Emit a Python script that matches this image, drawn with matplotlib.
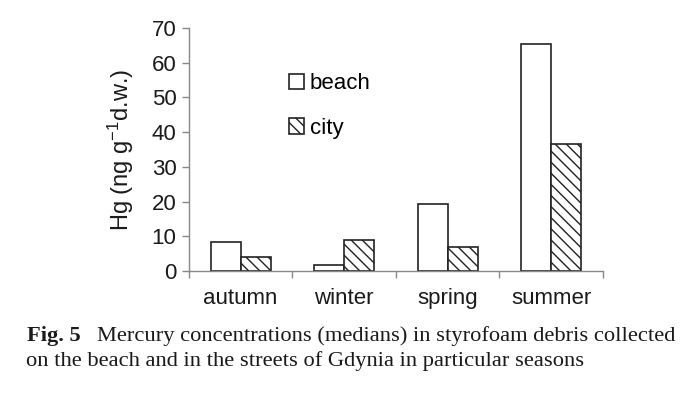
import matplotlib
matplotlib.use('Agg')
import matplotlib.pyplot as plt
import numpy as np

# data
seasons = ['autumn', 'winter', 'spring', 'summer']
beach = [8.4, 1.8, 19.2, 65.3]
city = [4.1, 8.9, 6.8, 36.6]
y_ticks = [0, 10, 20, 30, 40, 50, 60, 70]

plt.rcParams['font.family'] = ['Liberation Sans', 'DejaVu Sans']
plt.rcParams['mathtext.fontset'] = 'custom'
plt.rcParams['mathtext.rm'] = 'Liberation Sans'
plt.rcParams['mathtext.it'] = 'Liberation Sans:italic'
plt.rcParams['hatch.linewidth'] = 1.0

fig = plt.figure(figsize=(6.92, 3.96), dpi=100)
ax = fig.add_axes([0.273, 0.316, 0.598, 0.613])

x = np.arange(len(seasons))
w = 0.29
ax.bar(x - w / 2, beach, w, color='white', edgecolor='#222222', linewidth=1.2, label='beach')
ax.bar(x + w / 2, city, w, color='white', edgecolor='#222222', linewidth=1.2,
       hatch='\\\\\\', label='city')

ax.set_xlim(-0.5, len(seasons) - 0.5)
ax.set_ylim(0, 70)
ax.set_yticks(y_ticks)
ax.set_xticks(x)
ax.set_xticklabels(seasons)
ax.set_xticks(np.arange(len(seasons) + 1) - 0.5, minor=True)
ax.tick_params(axis='x', which='major', length=0, pad=12, labelsize=16, colors='#1a1a1a')
ax.tick_params(axis='x', which='minor', length=5, width=1, color='#888888')
ax.tick_params(axis='y', length=5, width=1, color='#888888', labelsize=16,
               labelcolor='#1a1a1a', pad=4)

for s in ['top', 'right']:
    ax.spines[s].set_visible(False)
for s in ['left', 'bottom']:
    ax.spines[s].set_color('#888888')
    ax.spines[s].set_linewidth(1.0)

ax.set_ylabel(r'Hg (ng g$^{\mathrm{-1}}$d.w.)', fontsize=17, color='#1a1a1a', labelpad=11)

ax.legend(loc='upper left', bbox_to_anchor=(0.22, 0.85), frameon=False, fontsize=16,
          handlelength=0.7, handleheight=0.7, handletextpad=0.25, labelspacing=1.05,
          borderaxespad=0)

# caption
serif = ['Liberation Serif', 'DejaVu Serif']
fig.text(27 / 692, 1 - 341 / 396, 'Fig. 5', fontsize=16.2, fontweight='bold',
         family=serif, va='baseline', ha='left', color='#1a1a1a')
fig.text(97 / 692, 1 - 341 / 396,
         'Mercury concentrations (medians) in styrofoam debris collected',
         fontsize=16.2, family=serif, va='baseline', ha='left', color='#1a1a1a')
fig.text(26 / 692, 1 - 366 / 396,
         'on the beach and in the streets of Gdynia in particular seasons',
         fontsize=16.2, family=serif, va='baseline', ha='left', color='#1a1a1a')

fig.savefig('out.png', dpi=100)
